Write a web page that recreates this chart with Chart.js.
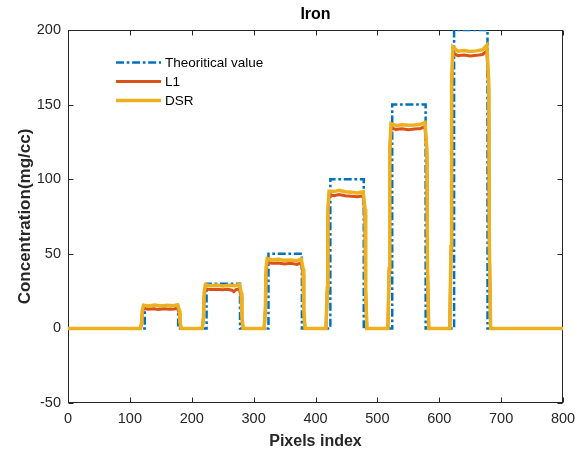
<!DOCTYPE html>
<html lang="en">
<head>
  <meta charset="UTF-8">
  <title>Iron</title>
  <script src="https://cdn.jsdelivr.net/npm/chart.js"></script>
  <style>
    html, body { margin: 0; padding: 0; background: #fff; }
    #wrap { width: 577px; height: 455px; }
  </style>
</head>
<body>
  <div id="wrap"><canvas id="ironChart" width="577" height="455"></canvas></div>

  <script>
    // tick labels
    const xTicks = [0, 100, 200, 300, 400, 500, 600, 700, 800];
    const yTicks = [-50, 0, 50, 100, 150, 200];

    const seriesNames = ['Theoritical value', 'L1', 'DSR'];

    // theoretical step profile [pixel, concentration]
    const theoryPoints = [
      [0, 0], [124, 0], [124, 15], [178, 15], [178, 0],
      [224, 0], [224, 30], [278, 30], [278, 0],
      [324, 0], [324, 50], [378, 50], [378, 0],
      [424, 0], [424, 100], [478, 100], [478, 0],
      [524, 0], [524, 150], [578, 150], [578, 0],
      [624, 0], [624, 200], [678, 200], [678, 0],
      [800, 0]
    ];

    // L1 reconstruction
    const l1Points = [
      [0, 0], [117, 0],
      [119, 3], [120, 10], [122, 13.4], [130, 12.8], [138, 13.2], [146, 12.7], [155, 13.1], [164, 12.8], [172, 13.0], [177, 13.6], [180, 10], [181, 3], [183, 0],
      [217, 0],
      [219, 7], [220, 21], [222, 26.6], [230, 26.0], [240, 26.3], [250, 25.9], [258, 26.2], [265, 25.6], [268, 24.6], [271, 25.9], [277, 26.7], [280, 21], [281, 7], [283, 0],
      [317, 0],
      [319, 12], [320, 36], [322, 44.2], [330, 43.6], [340, 43.9], [350, 43.2], [360, 43.6], [370, 42.9], [377, 44.0], [380, 36], [381, 12], [383, 0],
      [417, 0],
      [419, 25], [420, 76], [422, 89.6], [430, 89.0], [438, 89.8], [448, 88.9], [458, 88.6], [468, 88.2], [477, 88.9], [480, 76], [481, 25], [483, 0],
      [517, 0],
      [519, 38], [520, 116], [522, 134.5], [530, 133.4], [540, 133.8], [550, 133.2], [560, 133.6], [570, 134.0], [577, 135.3], [580, 116], [581, 38], [583, 0],
      [617, 0],
      [619, 52], [620, 160], [622, 184.6], [630, 182.8], [640, 183.2], [650, 182.6], [660, 183.0], [670, 183.6], [677, 186.0], [680, 160], [681, 52], [683, 0],
      [800, 0]
    ];

    // DSR reconstruction
    const dsrPoints = [
      [0, 0], [117, 0],
      [119, 4], [120, 12], [122, 15.6], [130, 15.1], [140, 15.6], [150, 15.0], [160, 15.5], [170, 15.2], [177, 15.8], [180, 12], [181, 4], [183, 0],
      [217, 0],
      [219, 8], [220, 24], [222, 29.3], [230, 28.6], [240, 29.0], [250, 28.4], [260, 28.9], [270, 28.6], [277, 29.5], [280, 24], [281, 8], [283, 0],
      [317, 0],
      [319, 13], [320, 40], [322, 46.8], [330, 45.9], [340, 46.3], [350, 45.6], [360, 45.9], [370, 45.4], [377, 46.5], [380, 40], [381, 13], [383, 0],
      [417, 0],
      [419, 27], [420, 80], [422, 92.0], [430, 91.7], [438, 92.6], [448, 91.6], [458, 91.2], [468, 90.8], [477, 91.6], [480, 80], [481, 27], [483, 0],
      [517, 0],
      [519, 40], [520, 120], [522, 137.2], [530, 136.0], [540, 136.5], [550, 136.1], [560, 136.4], [570, 136.8], [577, 138.0], [580, 120], [581, 40], [583, 0],
      [617, 0],
      [619, 55], [620, 165], [622, 188.6], [630, 185.8], [640, 186.2], [650, 185.6], [660, 186.0], [670, 186.8], [677, 189.8], [680, 165], [681, 55], [683, 0],
      [800, 0]
    ];

    const TEXT = '#262626';
    const FONT = '"Liberation Sans", Arial, Helvetica, sans-serif';

    function toXY(points) {
      return points.map(p => ({ x: p[0], y: p[1] }));
    }

    // matlab look: box + inward ticks under the data, title and legend on top
    const matlabFrame = {
      id: 'matlabFrame',
      beforeDatasetsDraw(chart) {
        const ctx = chart.ctx;
        const a = chart.chartArea;
        const xs = chart.scales.x;
        const ys = chart.scales.y;
        ctx.save();
        ctx.strokeStyle = TEXT;
        ctx.lineWidth = 1;
        const L = Math.round(a.left) + 0.5, R = Math.round(a.right) - 0.5;
        const T = Math.round(a.top) + 0.5, B = Math.round(a.bottom) - 0.5;
        ctx.strokeRect(L, T, R - L, B - T);
        ctx.beginPath();
        xTicks.forEach(v => {
          const px = Math.round(xs.getPixelForValue(v)) + 0.5;
          ctx.moveTo(px, B); ctx.lineTo(px, B - 5);
          ctx.moveTo(px, T); ctx.lineTo(px, T + 5);
        });
        yTicks.forEach(v => {
          const py = Math.round(ys.getPixelForValue(v)) + 0.5;
          ctx.moveTo(L, py); ctx.lineTo(L + 5, py);
          ctx.moveTo(R, py); ctx.lineTo(R - 5, py);
        });
        ctx.stroke();
        ctx.restore();
      },
      afterDraw(chart) {
        const ctx = chart.ctx;
        const a = chart.chartArea;
        ctx.save();

        // title
        ctx.fillStyle = '#000';
        ctx.font = 'bold 16px ' + FONT;
        ctx.textAlign = 'center';
        ctx.textBaseline = 'middle';
        ctx.fillText('Iron', (a.left + a.right) / 2, 15);

        // legend
        const ds = chart.data.datasets;
        ctx.font = '13.5px ' + FONT;
        ctx.textAlign = 'left';
        [0, 1, 2].forEach((i, k) => {
          const d = ds[i];
          const y = a.top + 32.5 + k * 19;
          ctx.beginPath();
          ctx.strokeStyle = d.borderColor;
          ctx.lineWidth = d.borderWidth;
          ctx.setLineDash(d.borderDash || []);
          ctx.moveTo(a.left + 48, y);
          ctx.lineTo(a.left + 93, y);
          ctx.stroke();
          ctx.setLineDash([]);
          ctx.fillStyle = '#000';
          ctx.fillText(d.label, a.left + 97, y + 0.5);
        });
        ctx.restore();
      }
    };

    const ctx = document.getElementById('ironChart').getContext('2d');
    new Chart(ctx, {
      type: 'line',
      data: {
        datasets: [
          {
            label: seriesNames[0],
            data: toXY(theoryPoints),
            borderColor: '#0072BD',
            borderWidth: 2.5,
            borderDash: [8, 2.7, 2.7, 2.7],
            pointRadius: 0,
            order: 2
          },
          {
            label: seriesNames[1],
            data: toXY(l1Points),
            borderColor: '#D95319',
            borderWidth: 3,
            pointRadius: 0,
            order: 1
          },
          {
            label: seriesNames[2],
            data: toXY(dsrPoints),
            borderColor: '#EDB120',
            borderWidth: 3.5,
            pointRadius: 0,
            order: 0
          }
        ]
      },
      options: {
        responsive: false,
        animation: false,
        layout: { padding: { top: 30, right: 14, left: 0, bottom: 0 } },
        plugins: {
          legend: { display: false },
          tooltip: { enabled: false }
        },
        scales: {
          x: {
            type: 'linear',
            min: 0,
            max: 800,
            grid: { display: false, drawTicks: false },
            border: { display: false },
            afterBuildTicks: s => { s.ticks = xTicks.map(v => ({ value: v })); },
            afterFit: s => { s.height = 52; s.paddingLeft = 0; s.paddingRight = 0; },
            ticks: {
              padding: 7,
              color: TEXT,
              maxRotation: 0,
              autoSkip: false,
              font: { family: FONT, size: 14.5 }
            },
            title: {
              display: true,
              text: 'Pixels index',
              color: TEXT,
              padding: { top: 4, bottom: 4 },
              font: { family: FONT, size: 16, weight: 'bold' }
            }
          },
          y: {
            type: 'linear',
            min: -50,
            max: 200,
            grid: { display: false, drawTicks: false },
            border: { display: false },
            afterBuildTicks: s => { s.ticks = yTicks.map(v => ({ value: v })); },
            afterFit: s => { s.width = 68; s.paddingTop = 0; s.paddingBottom = 0; },
            ticks: {
              padding: 7,
              color: TEXT,
              font: { family: FONT, size: 14.5 }
            },
            title: {
              display: true,
              text: 'Concentration(mg/cc)',
              color: TEXT,
              padding: { top: 15, bottom: 15 },
              font: { family: FONT, size: 17, weight: 'bold' }
            }
          }
        }
      },
      plugins: [matlabFrame]
    });
  </script>
</body>
</html>
